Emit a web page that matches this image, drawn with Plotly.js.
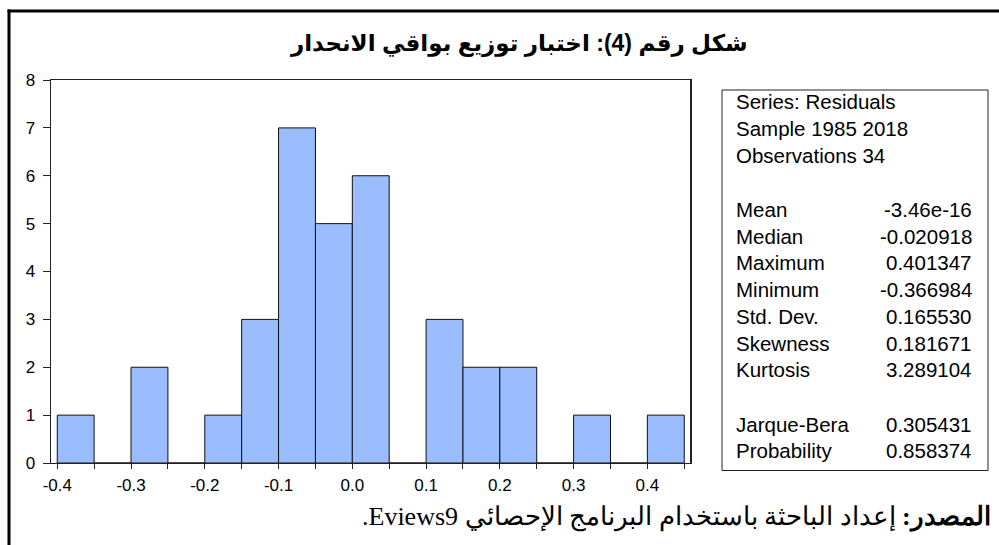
<!DOCTYPE html>
<html><head><meta charset="utf-8">
<script src="https://cdn.plot.ly/plotly-3.0.1.min.js"></script>
<style>html,body{margin:0;padding:0;background:#fff;overflow:hidden}#chart{width:999px;height:545px}</style>
</head><body><div id="chart"></div>
<script>
// ---- data ----
const binStarts = [-0.40,-0.35,-0.30,-0.25,-0.20,-0.15,-0.10,-0.05,0.00,0.05,0.10,0.15,0.20,0.25,0.30,0.35,0.40];
const counts    = [1,0,2,0,1,3,7,5,6,0,3,2,2,0,1,0,1];
const binWidth = 0.05;
const xTickVals = [-0.4,-0.3,-0.2,-0.1,0.0,0.1,0.2,0.3,0.4];
const xTickText = ['-0.4','-0.3','-0.2','-0.1','0.0','0.1','0.2','0.3','0.4'];
const yTickVals = [0,1,2,3,4,5,6,7,8];
const yTickText = ['0','1','2','3','4','5','6','7','8'];
const headerLines = ['Series: Residuals','Sample 1985 2018','Observations 34'];
const statLabels = ['Mean','Median','Maximum','Minimum','Std. Dev.','Skewness','Kurtosis'];
const statValues = ['-3.46e-16','-0.020918','0.401347','-0.366984','0.165530','0.181671','3.289104'];
const testLabels = ['Jarque-Bera','Probability'];
const testValues = ['0.305431','0.858374'];
const titleText = 'شكل رقم (4): اختبار توزيع بواقي الانحدار';
const sourceLabel = 'المصدر:';
const sourceText = 'إعداد الباحثة باستخدام البرنامج الإحصائي Eviews9.';

// ---- layout helpers (pixel -> paper) ----
const L = 51, T = 80, W = 639, H = 383;
const PW = 999, PH = 545;
const px = p => (p - L) / W;
const py = p => (T + H - p) / H;

const statFont = {family: 'Arial, "Liberation Sans", sans-serif', size: 20.5, color: '#000'};
const annotations = [];
const rowY = [102, 128.5, 155.5, 209, 236, 262.5, 289, 316, 343, 369.5, 424, 450];
let r = 0;
headerLines.forEach(t => {
  annotations.push({text: t, x: px(734), y: py(rowY[r++]), xref: 'paper', yref: 'paper',
    xanchor: 'left', yanchor: 'middle', showarrow: false, font: statFont});
});
function pair(lbl, val) {
  const yy = py(rowY[r++]);
  annotations.push({text: lbl, x: px(734), y: yy, xref: 'paper', yref: 'paper',
    xanchor: 'left', yanchor: 'middle', showarrow: false, font: statFont});
  annotations.push({text: val, x: px(974), y: yy, xref: 'paper', yref: 'paper',
    xanchor: 'right', yanchor: 'middle', showarrow: false, font: statFont});
}
statLabels.forEach((l, i) => pair(l, statValues[i]));
testLabels.forEach((l, i) => pair(l, testValues[i]));

annotations.push({text: '\u202B<b>' + titleText + '</b>\u202C', x: px(519), y: py(44), xref: 'paper', yref: 'paper',
  xanchor: 'center', yanchor: 'middle', showarrow: false,
  font: {family: 'Arial, "DejaVu Sans", sans-serif', size: 23, color: '#000'}});
annotations.push({text: '\u202B<b>' + sourceLabel + '</b> ' + sourceText + '\u202C', x: px(993), y: py(517), xref: 'paper', yref: 'paper',
  xanchor: 'right', yanchor: 'middle', showarrow: false,
  font: {family: '"Liberation Serif", "Times New Roman", serif', size: 26, color: '#000'}});

const shapes = [
  {type: 'line', xref: 'paper', yref: 'paper', x0: px(7.5), x1: px(1010), y0: py(11), y1: py(11), line: {color: '#000', width: 3}},
  {type: 'line', xref: 'paper', yref: 'paper', x0: px(9), x1: px(9), y0: py(9.5), y1: py(560), line: {color: '#000', width: 3}},
  {type: 'rect', xref: 'paper', yref: 'paper', x0: px(722), x1: px(988), y0: py(90), y1: py(470.5), line: {color: '#222', width: 1}, fillcolor: 'rgba(0,0,0,0)'}
];

const trace = {
  type: 'bar', x: binStarts, y: counts, width: binWidth, offset: 0,
  marker: {color: 'rgb(153,189,255)', line: {color: '#111', width: 1}},
  hoverinfo: 'skip'
};

const axisFont = {family: 'Arial, "Liberation Sans", sans-serif', size: 17, color: '#000'};
const layout = {
  width: PW, height: PH, margin: {l: L, r: PW - L - W, t: T, b: PH - T - H},
  paper_bgcolor: '#fff', plot_bgcolor: '#fff', showlegend: false, bargap: 0,
  xaxis: {range: [-0.4085, 0.4578], tickmode: 'array', tickvals: xTickVals, ticktext: xTickText,
    ticks: 'outside', ticklen: 5, tickcolor: '#222', tickwidth: 1, showline: true, linecolor: '#222', linewidth: 1.2,
    mirror: true, showgrid: false, zeroline: false, tickfont: axisFont, ticklabelstandoff: 1,
    minor: {tick0: -0.4, dtick: 0.05, ticks: 'outside', ticklen: 5, tickcolor: '#222', tickwidth: 1, showgrid: false}},
  yaxis: {range: [0, 8], tickmode: 'array', tickvals: yTickVals, ticktext: yTickText,
    ticks: 'outside', ticklen: 7, tickcolor: '#222', tickwidth: 1, showline: true, linecolor: '#222', linewidth: 1.5,
    mirror: true, showgrid: false, zeroline: false, tickfont: axisFont, ticklabelstandoff: 4},
  shapes: shapes, annotations: annotations
};
Plotly.newPlot('chart', [trace], layout, {staticPlot: true, displayModeBar: false});
</script></body></html>
